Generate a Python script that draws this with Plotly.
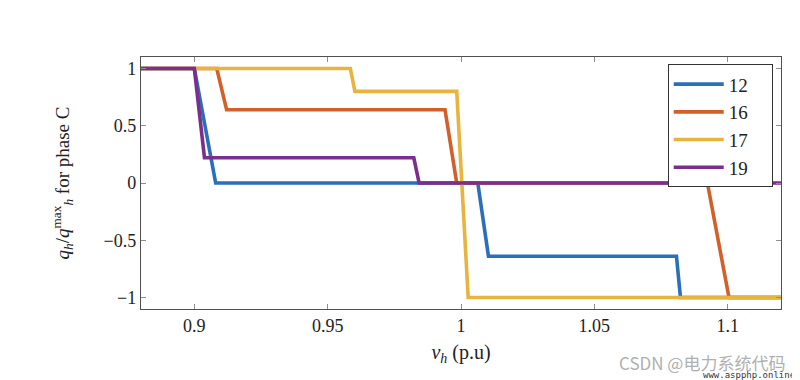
import plotly.graph_objects as go

# Data (v_h in p.u, q_h/q_h^max)
x12 = [0.88, 0.900, 0.908, 1.0063, 1.0103, 1.0808, 1.0823, 1.12]
y12 = [1, 1, 0, 0, -0.64, -0.64, -1, -1]

x16 = [0.88, 0.9084, 0.9121, 0.994, 0.9984, 1.0924, 1.1005, 1.12]
y16 = [1, 1, 0.64, 0.64, 0, 0, -1, -1]

x17 = [0.88, 0.9585, 0.9602, 0.9984, 1.0027, 1.12]
y17 = [1, 1, 0.8, 0.8, -1, -1]

x19 = [0.88, 0.900, 0.9038, 0.9823, 0.9843, 1.12]
y19 = [1, 1, 0.22, 0.22, 0, 0]

names = ["12", "16", "17", "19"]
colors = ["#2a6fb9", "#d1602a", "#e8b440", "#7a2f8c"]
xs = [x12, x16, x17, x19]
ys = [y12, y16, y17, y19]

xticks = [0.9, 0.95, 1.0, 1.05, 1.1]
xticklabels = ["0.9", "0.95", "1", "1.05", "1.1"]
yticks = [-1, -0.5, 0, 0.5, 1]
yticklabels = ["\u22121", "\u22120.5", "0", "0.5", "1"]

serif = "Liberation Serif, DejaVu Serif, serif"

fig = go.Figure()
for x, y, n, c in zip(xs, ys, names, colors):
    fig.add_trace(go.Scatter(x=x, y=y, mode="lines",
                             name=n + "\u00a0\u00a0\u00a0\u00a0",
                             line=dict(color=c, width=3.6)))

axis_common = dict(
    showgrid=False, zeroline=False, showline=True, mirror="ticks",
    linecolor="#505050", linewidth=1.3, ticks="inside", ticklen=5,
    tickcolor="#909090", tickwidth=1, automargin=False,
    tickfont=dict(family=serif, size=18, color="#222"),
)

# page body has an 8px default margin, so the figure is drawn at (8, 8)
fig.update_layout(
    width=792, height=372,
    margin=dict(l=133, r=19, t=49, b=71),
    paper_bgcolor="white", plot_bgcolor="white",
    showlegend=True,
    legend=dict(x=0.823, y=0.971, xanchor="left", yanchor="top",
                bordercolor="#333", borderwidth=1, bgcolor="white",
                font=dict(family=serif, size=19, color="#222"),
                itemwidth=50, tracegroupgap=0),
    xaxis=dict(range=[0.88, 1.12], tickvals=xticks, ticktext=xticklabels,
               title=dict(text="<i>v<sub>h</sub></i> (p.u)",
                          font=dict(family=serif, size=20, color="#222"),
                          standoff=10),
               **axis_common),
    yaxis=dict(range=[-1.1, 1.1], tickvals=yticks, ticktext=yticklabels,
               title=dict(text="<i>q<sub>h</sub></i>/<i>q</i><sup>max</sup><sub><i>h</i></sub> for phase C",
                          font=dict(family=serif, size=19, color="#222"),
                          standoff=28),
               **axis_common),
)

fig.add_annotation(text="CSDN @电力系统代码", xref="paper", yref="paper",
                   x=1.009, y=-0.214, xanchor="right", yanchor="middle",
                   showarrow=False,
                   font=dict(family="Noto Sans CJK SC, sans-serif", size=17, color="#b0b0b0"))
fig.add_annotation(text="www.aspphp.online", xref="paper", yref="paper",
                   x=1.025, y=-0.262, xanchor="right", yanchor="middle",
                   showarrow=False,
                   font=dict(family="DejaVu Sans Mono, monospace", size=9, color="#333"))

fig.write_html("out.html")
